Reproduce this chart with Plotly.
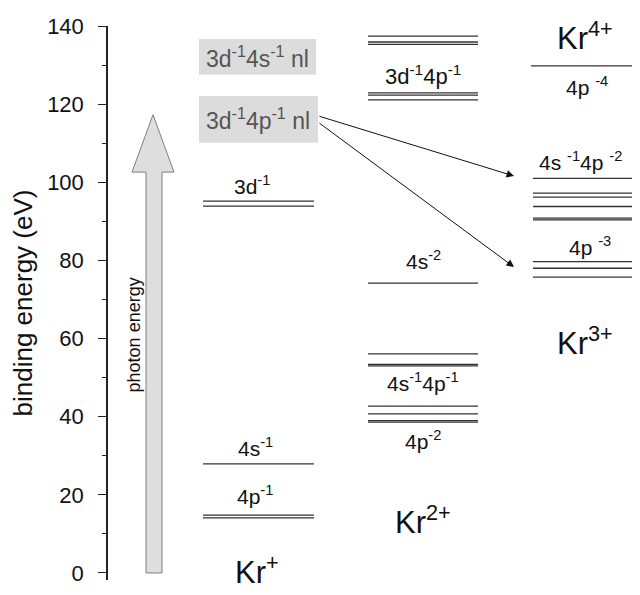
import plotly.graph_objects as go

# ---- data (binding energies in eV) ----
kr1_levels = [95.2, 93.9, 27.9, 14.8, 14.1]
kr2_levels = [137.4, 135.9, 135.3, 122.9, 122.3, 121.1, 74.2, 56.1, 53.4, 53.0, 42.7, 40.7, 39.0, 38.6]
kr3_levels = [101.0, 97.2, 96.2, 93.8, 90.8, 90.4, 79.7, 78.0, 75.7]
kr4_levels = [129.8]
photon_arrow_top = 117.3
photon_head_base = 102.6
y_ticks = [0, 20, 40, 60, 80, 100, 120, 140]

FONT = "Liberation Sans, Arial, sans-serif"
LINE = "#333333"

# column extents (x in layout units = pixels from the axis)
cols = {
    "kr1": (95, 206),
    "kr2": (260, 370),
    "kr3": (425, 532),
    "kr4": (423, 532),
}

fig = go.Figure()

def add_levels(levels, x0, x1):
    xs, ys = [], []
    for e in levels:
        xs += [x0, x1, None]
        ys += [e, e, None]
    fig.add_trace(go.Scatter(x=xs, y=ys, mode="lines",
                             line=dict(color=LINE, width=1.3),
                             hoverinfo="skip", showlegend=False, cliponaxis=False))

add_levels(kr1_levels, *cols["kr1"])
add_levels(kr2_levels, *cols["kr2"])
add_levels(kr3_levels, *cols["kr3"])
add_levels(kr4_levels, *cols["kr4"])

# photon energy arrow (polygon)
ax_ = [38, 38, 24, 45, 66, 54, 54, 38]
ay_ = [0, photon_head_base, photon_head_base, photon_arrow_top, photon_head_base, photon_head_base, 0, 0]
fig.add_trace(go.Scatter(x=ax_, y=ay_, mode="lines", fill="toself",
                         fillcolor="#dedede", line=dict(color="#808080", width=1),
                         hoverinfo="skip", showlegend=False))

# grey boxes
fig.add_shape(type="rect", x0=91, x1=208, y0=127.5, y1=136.7, xref="x", yref="y",
              fillcolor="#dcdcdc", line=dict(width=0), layer="below")
fig.add_shape(type="rect", x0=91, x1=210, y0=110.1, y1=122.1, xref="x", yref="y",
              fillcolor="#dcdcdc", line=dict(width=0), layer="below")

def label(x, y, text, size=21, color="#111111", angle=0):
    fig.add_annotation(x=x, y=y, text=text, showarrow=False, xref="x", yref="y",
                       font=dict(family=FONT, size=size, color=color), textangle=angle)

KR = 31
# Kr+ column
label(144, 99.3, "3d<sup>-1</sup>")
label(147, 32.2, "4s<sup>-1</sup>")
label(147, 20.0, "4p<sup>-1</sup>")
label(149, 0.8, "Kr<sup>+</sup>", size=KR)
label(149, 132.1, "3d<sup>-1</sup>4s<sup>-1</sup> nl", size=23, color="#555555")
label(150, 116.2, "3d<sup>-1</sup>4p<sup>-1</sup> nl", size=23, color="#555555")

# Kr2+ column
label(315, 141.5, "3d<sup>-1</sup>4s<sup>-1</sup>", size=22)
label(315, 127.5, "3d<sup>-1</sup>4p<sup>-1</sup>", size=22)
label(315, 80.1, "4s<sup>-2</sup>")
label(315, 48.9, "4s<sup>-1</sup>4p<sup>-1</sup>")
label(315, 34.0, "4p<sup>-2</sup>")
label(315, 13.5, "Kr<sup>2+</sup>", size=KR)

# Kr3+ / Kr4+ column
label(477, 137.5, "Kr<sup>4+</sup>", size=KR)
label(479, 124.6, "4p <sup>-4</sup>")
label(472, 105.5, "4s <sup>-1</sup>4p <sup>-2</sup>")
label(482, 83.7, "4p <sup>-3</sup>")
label(477, 59.5, "Kr<sup>3+</sup>", size=KR)

# photon energy text
label(26, 60.8, "photon energy", size=18, angle=-90)

# Auger arrows
for (x0, y0, x1, y1) in [(210, 117.0, 406, 101.6), (210, 115.4, 406, 78.3)]:
    fig.add_annotation(x=x1, y=y1, ax=x0, ay=y0, xref="x", yref="y", axref="x", ayref="y",
                       showarrow=True, arrowhead=2, arrowsize=1.5, arrowwidth=1,
                       arrowcolor="#111111", text="", standoff=0)

# page body has an 8px default margin, so margins are offset by 8px
fig.update_layout(
    width=640, height=595,
    margin=dict(l=100, r=8, t=18, b=23, autoexpand=False),
    paper_bgcolor="white", plot_bgcolor="white",
    font=dict(family=FONT, color="#111111"),
    xaxis=dict(range=[0, 532], visible=False, fixedrange=True, automargin=False),
    yaxis=dict(range=[-1.8, 140], tickvals=y_ticks, ticks="outside", ticklen=8,
               automargin=False,
               tickwidth=1.3, tickcolor="#222222", showline=True, linecolor="#222222",
               linewidth=1.5, showgrid=False, zeroline=False,
               tickfont=dict(size=22, color="#111111"), ticklabelstandoff=10,
               minor=dict(tickvals=[10, 30, 50, 70, 90, 110, 130], ticks="outside",
                          ticklen=4, tickwidth=1.2, tickcolor="#222222"),
               title=dict(text="binding energy (eV)", font=dict(size=26), standoff=13)),
    showlegend=False,
)

fig.write_html("out.html")
